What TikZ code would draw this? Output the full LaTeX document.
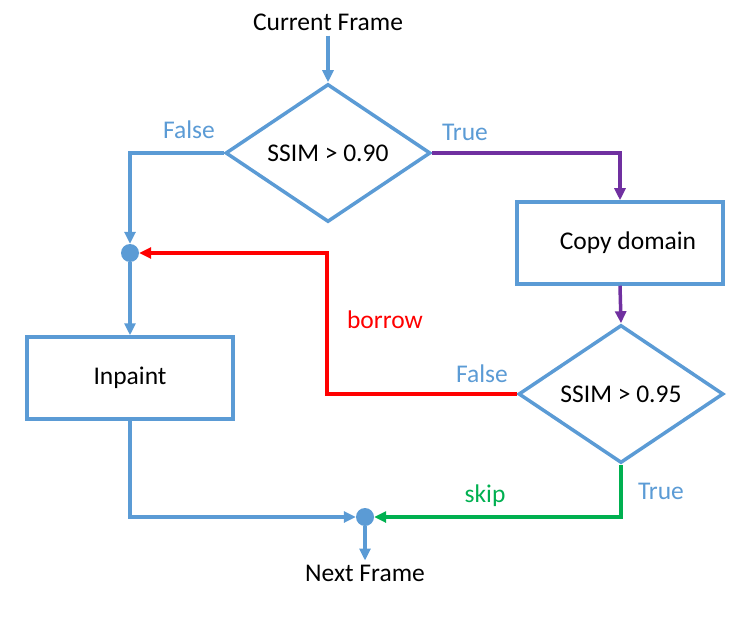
\documentclass[tikz,border=0pt]{standalone}
\usepackage{fontspec}
\setmainfont{Carlito}
\usetikzlibrary{shapes.geometric,arrows.meta}
\definecolor{fblue}{HTML}{5B9BD5}
\definecolor{fpurple}{HTML}{7030A0}
\definecolor{fred}{HTML}{FF0000}
\definecolor{fgreen}{HTML}{00B050}
\begin{document}
\begin{tikzpicture}[x=1pt,y=-1pt,
  every node/.style={font=\fontsize{25.5}{30}\selectfont},
  decision/.style={draw=fblue,line width=3.5pt,diamond,aspect=1.5,inner sep=0pt,minimum width=205pt,minimum height=138pt},
  process/.style={draw=fblue,line width=3.5pt,rectangle,minimum width=206pt,minimum height=82pt,inner sep=0pt},
  junction/.style={circle,fill=fblue,minimum size=18pt,inner sep=0pt},
  flow/.style={line width=3.5pt,-{Triangle[length=12pt,width=11pt]}},
  plain/.style={inner sep=0pt},
  lbl/.style={inner sep=0pt,text=fblue}]
\useasboundingbox (0,0) rectangle (749,644);
\node[inner sep=5pt] (cf) at (328,22) {Current Frame};
\node[decision] (d1) at (328,153) {SSIM > 0.90};
\node[junction] (j1) at (130,253) {};
\node[process] (inp) at (130,378) {Inpaint};
\node[process] (cd) at (620,243) {\hspace*{16pt}Copy domain};
\node[decision] (d2) at (621,394) {SSIM > 0.95};
\node[junction] (j2) at (365,517) {};
\node[inner sep=4pt] (nf) at (365,573) {Next Frame};
% labels
\node[lbl] (lf1) at (189,130) {False};
\node[lbl] (lt1) at (465,132) {True};
\node[lbl] (lf2) at (482,374) {False};
\node[lbl] (lt2) at (661,491) {True};
\node[plain,text=fred] (lb) at (385,320) {borrow};
\node[plain,text=fgreen] (ls) at (485,496) {skip};
% connectors
\draw[flow,draw=fblue] (cf.south) -- (d1.north);
\draw[flow,draw=fblue] (d1.west) -| (j1.north);
\draw[flow,draw=fblue] (j1.south) -- (inp.north);
\draw[flow,draw=fblue] (inp.south) |- (j2.west);
\draw[flow,draw=fblue] (j2.south) -- (nf.north);
\draw[flow,draw=fpurple] (d1.east) -| (cd.north);
\draw[flow,draw=fpurple] (cd.south) -- (d2.north);
\draw[flow,draw=fred] (d2.west) -- ++(-190,0) |- (j1.east);
\draw[flow,draw=fgreen] (d2.south) |- (j2.east);
\end{tikzpicture}
\end{document}
